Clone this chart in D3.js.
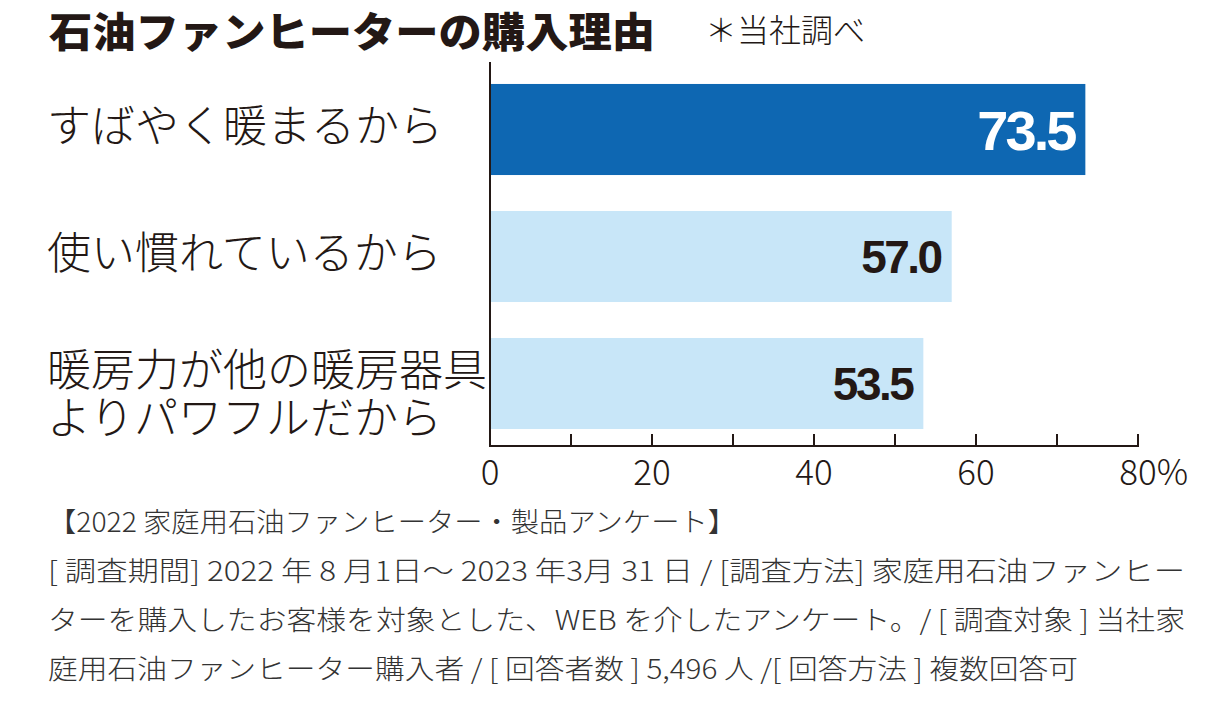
<!DOCTYPE html>
<html><head><meta charset="utf-8">
<script src="https://cdn.jsdelivr.net/npm/d3@7"></script>
<style>
html,body{margin:0;padding:0;background:#fff;}
svg{display:block;}
</style></head>
<body>
<svg id="c" width="1205" height="720"></svg>
<script>
const title = "石油ファンヒーターの購入理由";
const note = "＊当社調べ";
const categories = [["すばやく暖まるから"], ["使い慣れているから"], ["暖房力が他の暖房器具", "よりパワフルだから"]];
const values = [73.5, 57.0, 53.5];
const valueLabels = ["73.5", "57.0", "53.5"];
const highlight = [true, false, false];
const xTicks = [0, 20, 40, 60, 80];
const xMinorTicks = [10, 30, 50, 70];
const footer = [
  "【2022 家庭用石油ファンヒーター・製品アンケート】",
  "[ 調査期間] 2022 年 8 月1日～ 2023 年3月 31 日 / [調査方法] 家庭用石油ファンヒー",
  "ターを購入したお客様を対象とした、WEB を介したアンケート。/ [ 調査対象 ] 当社家",
  "庭用石油ファンヒーター購入者 / [ 回答者数 ] 5,496 人 /[ 回答方法 ] 複数回答可"
];
const footerWidths = [688, 1137, 1137, 1030];

const ink = "#231815";
const jp = "'Noto Sans CJK JP','Noto Sans',sans-serif";
const svg = d3.select("#c");

const x = d3.scaleLinear().domain([0, 80]).range([490, 1138]);
const y = d3.scaleBand().domain(d3.range(values.length)).range([66, 447])
  .paddingInner(0.283).paddingOuter(0.1415);

// title
svg.append("text").attr("x", 49).attr("y", 47)
  .attr("font-family", jp).attr("font-weight", 900).attr("font-size", 41)
  .attr("fill", ink).attr("textLength", 606).attr("lengthAdjust", "spacingAndGlyphs")
  .text(title);
svg.append("text").attr("x", 705).attr("y", 42)
  .attr("font-family", jp).attr("font-weight", 300).attr("font-size", 32)
  .attr("fill", ink).text(note);

// bars
svg.selectAll("rect.bar").data(values).join("rect").attr("class", "bar")
  .attr("x", x(0)).attr("y", (d, i) => y(i))
  .attr("width", d => x(d) - x(0)).attr("height", y.bandwidth())
  .attr("fill", (d, i) => highlight[i] ? "#0E67B2" : "#C8E6F8");

// value labels
svg.selectAll("text.val").data(values).join("text").attr("class", "val")
  .attr("x", d => x(d) - 11)
  .attr("y", (d, i) => y(i) + y.bandwidth() / 2)
  .attr("dy", "0.36em")
  .attr("text-anchor", "end")
  .attr("font-family", "'Liberation Sans',Arial,sans-serif")
  .attr("font-weight", 700)
  .attr("font-size", (d, i) => highlight[i] ? 56 : 46)
  .attr("letter-spacing", (d, i) => highlight[i] ? -3 : -2.5)
  .attr("fill", (d, i) => highlight[i] ? "#fff" : ink)
  .text((d, i) => valueLabels[i]);

// category labels
const lh = 48;
categories.forEach((lines, i) => {
  const cy = y(i) + y.bandwidth() / 2 + (lines.length > 1 ? 10.5 : -3.5);
  lines.forEach((ln, k) => {
    svg.append("text").attr("font-family", jp).attr("font-weight", 300)
      .attr("font-size", 44).attr("fill", ink)
      .attr("x", 47)
      .attr("y", cy + (k - (lines.length - 1) / 2) * lh)
      .attr("dy", "0.36em").text(ln);
  });
});

// x axis
const axisG = svg.append("g").attr("transform", "translate(0,446)");
axisG.append("line").attr("x1", x(0) - 1).attr("x2", x(80) + 1)
  .attr("stroke", ink).attr("stroke-width", 2);
axisG.selectAll("line.tk").data(xTicks.concat(xMinorTicks)).join("line").attr("class", "tk")
  .attr("x1", d => x(d)).attr("x2", d => x(d)).attr("y1", 0).attr("y2", -12)
  .attr("stroke", ink).attr("stroke-width", 2);
const tl = axisG.selectAll("text.tl").data(xTicks).join("text").attr("class", "tl")
  .attr("x", d => x(d)).attr("y", 39)
  .attr("text-anchor", "middle")
  .attr("font-family", jp).attr("font-weight", 300).attr("font-size", 35)
  .attr("fill", ink)
  .text(d => d);
tl.filter(d => d === 80).each(function(d) {
  const el = d3.select(this);
  const w = this.getComputedTextLength();
  el.attr("text-anchor", "start").attr("x", x(d) - w / 2);
  el.append("tspan").text("%");
});

// y axis line
svg.append("line").attr("x1", x(0)).attr("x2", x(0)).attr("y1", 62).attr("y2", 447)
  .attr("stroke", ink).attr("stroke-width", 2);

// footer
svg.selectAll("text.ft").data(footer).join("text").attr("class", "ft")
  .attr("x", 48).attr("y", (d, i) => 532 + i * 49)
  .attr("font-family", jp).attr("font-weight", 300).attr("font-size", 27)
  .attr("fill", "#333")
  .attr("textLength", (d, i) => footerWidths[i]).attr("lengthAdjust", "spacingAndGlyphs")
  .text(d => d);
</script>
</body></html>
